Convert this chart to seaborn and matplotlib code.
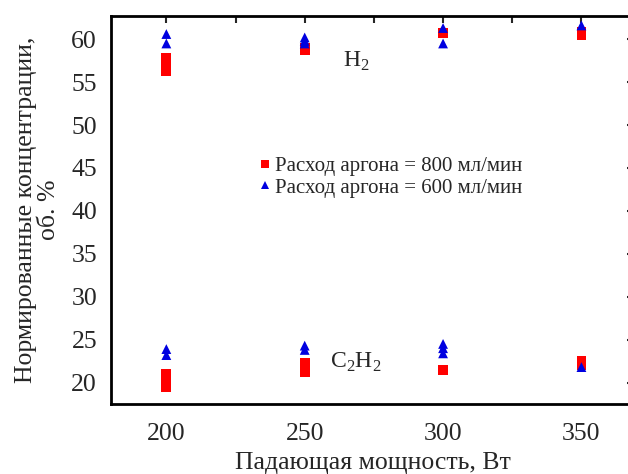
import numpy as np
import pandas as pd
import matplotlib
matplotlib.use("Agg")
import matplotlib.pyplot as plt
import seaborn as sns
from matplotlib.ticker import MultipleLocator

# ---- data ----
power_800 = [200, 200, 200, 250, 250, 300, 350, 350,
             200, 200, 200, 250, 250, 250, 300, 350, 350]
conc_800 = [57.8, 57.0, 56.3, 59.0, 58.7, 60.7, 60.8, 60.5,
            21.0, 20.3, 19.5, 22.3, 21.7, 21.2, 21.5, 22.5, 22.0]
power_600 = [200, 200, 250, 250, 250, 300, 300, 350,
             200, 200, 250, 250, 300, 300, 300, 350]
conc_600 = [60.6, 59.5, 60.2, 59.8, 59.5, 61.3, 59.5, 61.6,
            23.9, 23.2, 24.3, 23.8, 24.5, 24.0, 23.4, 21.8]
label_800 = "Расход аргона = 800 мл/мин"
label_600 = "Расход аргона = 600 мл/мин"
x_ticks = [200, 250, 300, 350]
y_ticks = [20, 25, 30, 35, 40, 45, 50, 55, 60]

df = pd.DataFrame({
    "power": power_800 + power_600,
    "conc": conc_800 + conc_600,
    "flow": [label_800] * len(power_800) + [label_600] * len(power_600),
})

sns.set_style("white")
plt.rcParams["font.family"] = ["Liberation Serif", "DejaVu Serif"]
plt.rcParams["mathtext.fontset"] = "custom"
plt.rcParams["mathtext.rm"] = "Liberation Serif"

fig = plt.figure(figsize=(6.28, 4.74), dpi=100)
W, H = 628, 474
left, right, top, bottom = 111, 634, 16, 404
ax = fig.add_axes([left / W, 1 - bottom / H, (right - left) / W, (bottom - top) / H])

sns.scatterplot(data=df, x="power", y="conc", hue="flow", style="flow",
                palette={label_800: "#ff0000", label_600: "#0000e0"},
                markers={label_800: "s", label_600: "^"},
                s=50, linewidth=0, ax=ax, legend=True)

ax.set_xlim(180, 369)
ax.set_ylim(17.5, 62.7)
ax.set_xticks(x_ticks)
ax.set_yticks(y_ticks)
ax.xaxis.set_minor_locator(MultipleLocator(25))
ax.yaxis.set_minor_locator(MultipleLocator(2.5))
ax.tick_params(axis="both", which="major", direction="out", length=8, width=1.5,
               labelsize=18.5)
ax.tick_params(axis="x", which="major", pad=6)
ax.tick_params(axis="y", which="major", pad=2)
ax.tick_params(axis="both", which="minor", direction="out", length=4, width=1.5)
for sp in ax.spines.values():
    sp.set_linewidth(2)
    sp.set_color("black")

secx = ax.secondary_xaxis("top")
secx.set_xticks(x_ticks)
secx.xaxis.set_minor_locator(MultipleLocator(25))
secx.tick_params(which="both", direction="in", length=5, width=1.5, labeltop=False)
secy = ax.secondary_yaxis("right")
secy.set_yticks(y_ticks)
secy.tick_params(which="both", direction="in", length=5, width=1.5, labelright=False)
secy.yaxis.set_minor_locator(MultipleLocator(100))

ax.set_xlabel("Падающая мощность, Вт", fontsize=18.5, labelpad=5)
ax.set_ylabel("Нормированные концентрации,\nоб. %", fontsize=18.5, labelpad=8,
              linespacing=1.1)

ax.text(264, 57.4, r"H$_2$", fontsize=17, ha="left", va="center")
ax.text(259, 22.3, r"C$_2$H$_2$", fontsize=17, ha="left", va="center")

leg = ax.legend(loc="upper left",
                bbox_to_anchor=((246 - left) / (right - left), 1 - (148 - top) / (bottom - top)),
                frameon=False, fontsize=15, handletextpad=0.0, borderaxespad=0,
                labelspacing=0.1, handlelength=1.0, markerscale=0.85)

fig.savefig("out.png", dpi=100)
